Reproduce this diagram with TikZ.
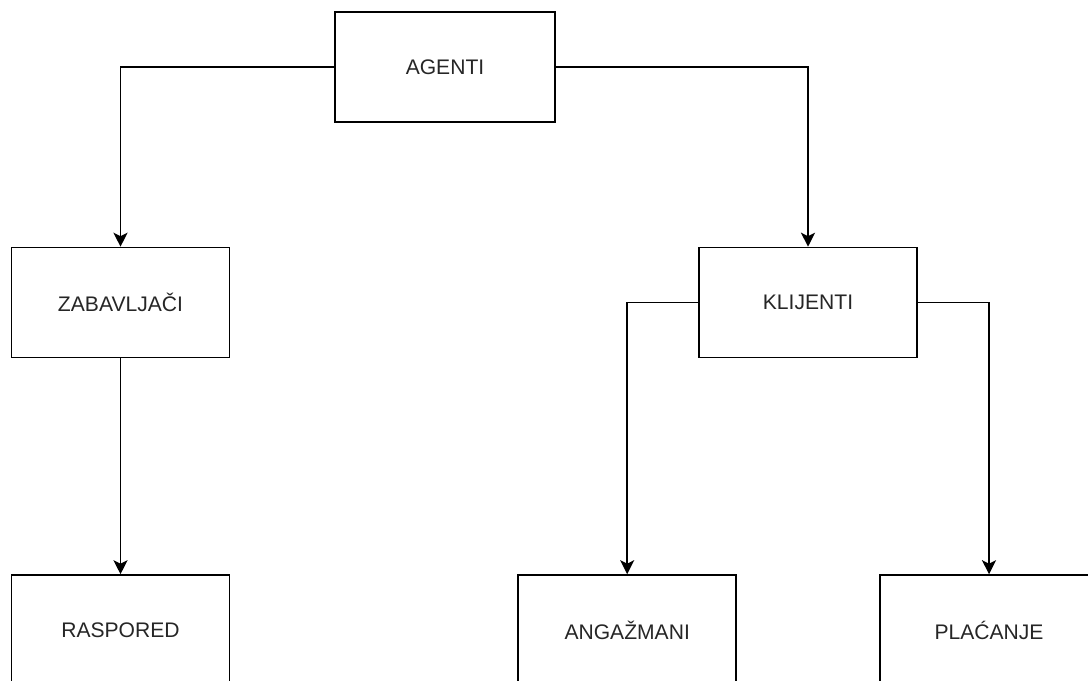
\documentclass[tikz,border=0pt]{standalone}
\usepackage{fontspec}
\setmainfont{Liberation Sans}
\usepackage{tikz}
\usetikzlibrary{arrows.meta}

\tikzset{
    box/.style={draw, line width=1.1pt, minimum width=5.45cm, minimum height=2.75cm, inner sep=0pt,
        font=\fontsize{15}{18}\selectfont, text=black!85},
    link/.style={line width=1.1pt, -{Stealth[length=10pt, width=10pt, inset=2.5pt]}}
}

\begin{document}
\begin{tikzpicture}
    \path[use as bounding box, clip] (0,0) rectangle (27.2,17);

    % Boxes
    \node[box, minimum width=5.5cm] (agenti) at (11.125, 15.325) {AGENTI};
    \node[box] (zabavljaci) at (3.0125, 9.4375) {ZABAVLJAČI};
    \node[box] (klijenti) at (20.2, 9.4375) {KLIJENTI};
    \node[box] (raspored) at (3.0125, 1.25) {RASPORED};
    \node[box] (angazmani) at (15.68, 1.25) {ANGAŽMANI};
    \node[box] (placanje) at (24.725, 1.25) {PLAĆANJE};

    % Connectors
    \draw[link] (agenti.west) -| (zabavljaci.north);
    \draw[link] (agenti.east) -| (klijenti.north);
    \draw[link] (zabavljaci.south) -- (raspored.north);
    \draw[link] (klijenti.west) -| (angazmani.north);
    \draw[link] (klijenti.east) -| (placanje.north);
\end{tikzpicture}
\end{document}
